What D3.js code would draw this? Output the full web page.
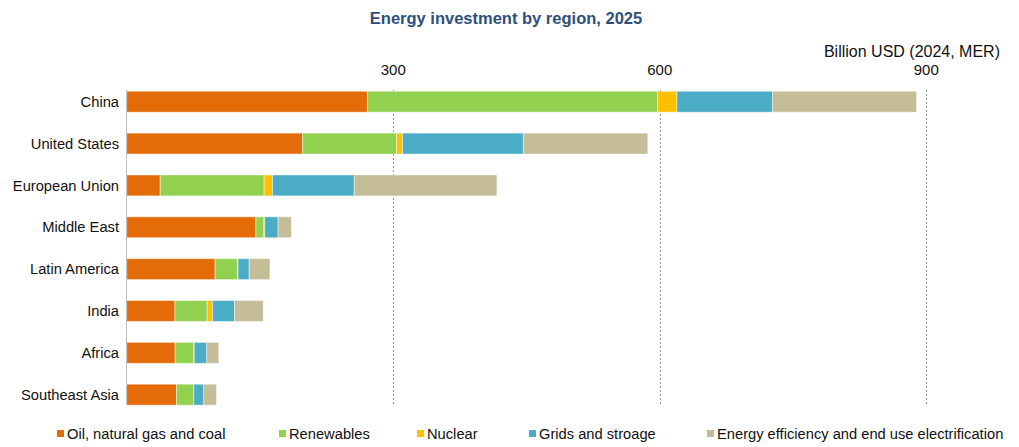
<!DOCTYPE html>
<html>
<head>
    <style>
        body { margin: 0; background: #fff; }
        svg text { font-family: "Liberation Sans", Arial, sans-serif; }
    </style>
</head>
<body>
<script src="https://d3js.org/d3.v7.min.js"></script>
<svg width="1019" height="447"></svg>
<script>
    // Data (billion USD)
    var regions = ["China", "United States", "European Union", "Middle East",
                   "Latin America", "India", "Africa", "Southeast Asia"];
    var seriesNames = ["Oil, natural gas and coal", "Renewables", "Nuclear",
                       "Grids and stroage", "Energy efficiency and end use electrification"];
    var oilGasCoal = [271, 198, 37.7, 145.4, 99.6, 54.3, 54.6, 56];
    var renewables = [326.5, 105.7, 117, 9, 25, 36.3, 21, 19.5];
    var nuclear    = [21.8, 6.8, 9.4, 1, 0.8, 6, 0.5, 0];
    var grids      = [107.7, 136, 92, 15, 12.5, 24.8, 14, 11.3];
    var efficiency = [162, 140, 160.6, 15, 23.3, 32.3, 13.5, 14.2];
    var ticks = [300, 600, 900];
    var colors = ["#E36C09", "#92D050", "#FFC000", "#4BACC6", "#C4BD97"];

    var allSeries = [oilGasCoal, renewables, nuclear, grids, efficiency];
    var keys = ["oil", "ren", "nuc", "grid", "eff"];
    var table = regions.map(function(r, i) {
        var row = {region: r};
        keys.forEach(function(k, j) { row[k] = allSeries[j][i]; });
        return row;
    });

    var svg = d3.select("svg");

    var x = d3.scaleLinear().domain([0, 900]).range([126.7, 926.3]);
    var y = d3.scaleBand().domain(regions).range([80.8, 415.6])
        .paddingInner(0.5).paddingOuter(0.25);
    var color = d3.scaleOrdinal().domain(keys).range(colors);

    // title
    svg.append("text")
        .attr("x", 506).attr("y", 24)
        .attr("text-anchor", "middle")
        .style("font-size", "16.5px").style("font-weight", "bold")
        .style("fill", "#2E4F7E")
        .text("Energy investment by region, 2025");

    svg.append("text")
        .attr("x", 1000).attr("y", 57)
        .attr("text-anchor", "end")
        .style("font-size", "16px").style("fill", "#111")
        .text("Billion USD (2024, MER)");

    // gridlines + tick labels
    svg.selectAll(".grid")
        .data(ticks).enter().append("line")
        .attr("x1", function(d) { return Math.round(x(d)) + 0.5; })
        .attr("x2", function(d) { return Math.round(x(d)) + 0.5; })
        .attr("y1", 90).attr("y2", 405)
        .attr("stroke", "#999").attr("stroke-width", 1)
        .attr("stroke-dasharray", "2,2");

    svg.selectAll(".tick-label")
        .data(ticks).enter().append("text")
        .attr("x", function(d) { return x(d); })
        .attr("y", 75)
        .attr("text-anchor", "middle")
        .style("font-size", "15px").style("fill", "#111")
        .text(function(d) { return d; });

    // stacked bars
    var stack = d3.stack().keys(keys);
    var layers = svg.selectAll(".layer")
        .data(stack(table)).enter().append("g")
        .attr("fill", function(d) { return color(d.key); });

    layers.selectAll("rect")
        .data(function(d) { return d; })
        .enter().append("rect")
        .attr("x", function(d) { return x(d[0]); })
        .attr("y", function(d) { return y(d.data.region); })
        .attr("width", function(d) { return Math.max(0, x(d[1]) - x(d[0])); })
        .attr("height", y.bandwidth())
        .attr("stroke", "rgba(255,255,255,0.45)")
        .attr("stroke-width", 1);

    // vertical axis line
    svg.append("line")
        .attr("x1", 126.5).attr("x2", 126.5)
        .attr("y1", 90).attr("y2", 405)
        .attr("stroke", "#bfbfbf").attr("stroke-width", 1);

    // category labels
    svg.selectAll(".cat")
        .data(regions).enter().append("text")
        .attr("x", 119)
        .attr("y", function(d) { return y(d) + y.bandwidth() / 2; })
        .attr("dy", "0.35em")
        .attr("text-anchor", "end")
        .style("font-size", "14.7px").style("fill", "#111")
        .text(function(d) { return d; });

    // legend
    var legendX = [57, 279, 417, 529, 707];
    var legend = svg.selectAll(".legend")
        .data(seriesNames).enter().append("g")
        .attr("transform", function(d, i) { return "translate(" + legendX[i] + ",0)"; });

    legend.append("rect")
        .attr("x", 0).attr("y", 430)
        .attr("width", 7).attr("height", 7)
        .attr("fill", function(d, i) { return colors[i]; });

    legend.append("text")
        .attr("x", 10).attr("y", 439)
        .style("font-size", "14.7px").style("fill", "#111")
        .text(function(d) { return d; });
</script>
</body>
</html>
